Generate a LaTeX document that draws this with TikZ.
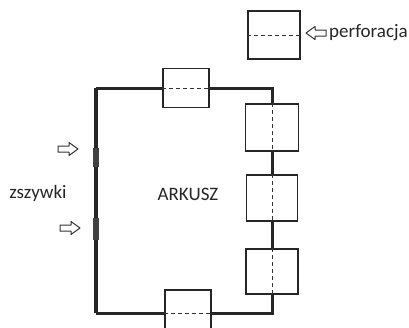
\documentclass[tikz,border=0pt]{standalone}
\usepackage{fontspec}
\setmainfont{Carlito}
\begin{document}
\begin{tikzpicture}[x=1pt,y=-1pt,
  sheet/.style={line width=3pt, draw=black!85},
  sheetleft/.style={line width=4pt, draw=black!85},
  perfbox/.style={draw=black!85, line width=1.2pt, inner sep=0pt, fill=white},
  perfline/.style={draw=black!80, dashed, dash pattern=on 4pt off 3pt, line width=1pt},
  staple/.style={draw=black!75, line width=6pt},
  arrowline/.style={line width=1pt, draw=black!80, fill=white, line join=round},
  pics/blockarr/.style={code={
    \draw[arrowline] (-10,-3) -- (1,-3) -- (1,-6.5) -- (10,0) -- (1,6.5) -- (1,3) -- (-10,3) -- cycle;}},
  lbl/.style={font=\fontsize{19}{21}\selectfont, text=black!85, inner sep=0pt}]
\useasboundingbox (0,0) rectangle (409,327);
\clip (0,0) rectangle (409,327);
% corners of the sheet
\coordinate (tl) at (96,88);
\coordinate (bl) at (96,313);
\coordinate (tr) at (272,88);
\coordinate (br) at (272,313);
% perforation boxes
\node[perfbox, minimum width=46pt, minimum height=39pt] (top) at (186,88) {};
\node[perfbox, minimum width=53pt, minimum height=47pt] (r1) at (272,127.5) {};
\node[perfbox, minimum width=51pt, minimum height=46pt] (r2) at (272,198) {};
\node[perfbox, minimum width=52pt, minimum height=45pt] (r3) at (272,271.5) {};
\node[perfbox, minimum width=46pt, minimum height=46pt] (bot) at (188,313) {};
\node[perfbox, minimum width=52pt, minimum height=48pt] (leg) at (274,35) {};
% sheet edges
\draw[sheetleft] (tl) -- (bl);
\draw[sheet] (top.west) -- (tl);
\draw[sheet] (bl) -- (bot.west);
\draw[sheet] (top.east) -- (tr) -- (r1.north);
\draw[sheet] (r1.south) -- (r2.north);
\draw[sheet] (r2.south) -- (r3.north);
\draw[sheet] (r3.south) -- (br) -- (bot.east);
% staples
\coordinate (s1a) at (96,148); \coordinate (s1b) at (96,167);
\coordinate (s2a) at (96,218); \coordinate (s2b) at (96,240);
\draw[staple] (s1a) -- (s1b);
\draw[staple] (s2a) -- (s2b);
% perforation lines
\draw[perfline] (top.west) -- (top.east);
\draw[perfline] (bot.west) -- (bot.east);
\draw[perfline] (r1.north) -- (r1.south);
\draw[perfline] (r2.north) -- (r2.south);
\draw[perfline] (r3.north) -- (r3.south);
\draw[perfline] (leg.west) -- (leg.east);
% arrows
\coordinate (a1) at (68,149);
\coordinate (a2) at (70,228);
\coordinate (a3) at (316,33);
\pic at (a1) {blockarr};
\pic at (a2) {blockarr};
\pic[rotate=180] at (a3) {blockarr};
% labels
\node[lbl] (zs) at (38,193) {zszywki};
\node[lbl] (ark) at (188,194) {ARKUSZ};
\node[lbl, anchor=west] (perf) at (329,33) {perforacja};
\end{tikzpicture}
\end{document}
